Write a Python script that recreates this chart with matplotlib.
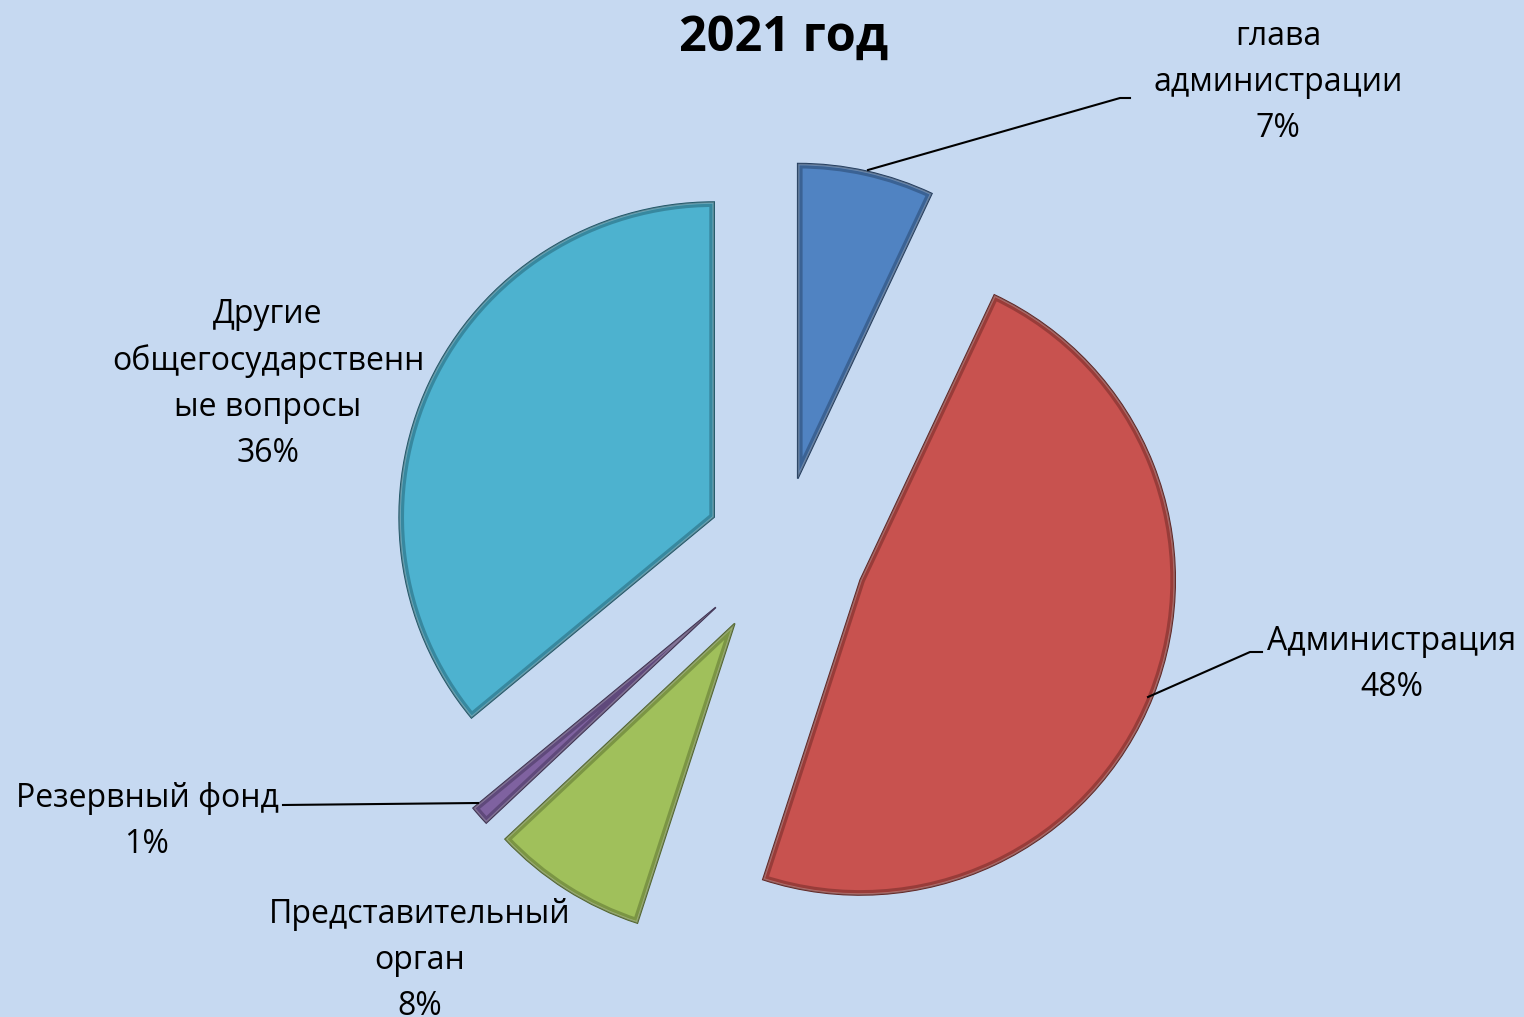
import matplotlib.pyplot as plt
import matplotlib.patches as mpatches

# data
labels = ["глава\nадминистрации", "Администрация", "Представительный\nорган",
          "Резервный фонд", "Другие\nобщегосударственн\nые вопросы"]
shares = [7, 48, 8, 1, 36]
colors = ["#5083C2", "#C8524F", "#A0C05B", "#7F62A0", "#4DB2CF"]
edges = ["#203A5C", "#5E2220", "#4E6228", "#3A2C4E", "#1E5566"]
explode = [0.229, 0.267, 0.28, 0.28, 0.238]

W, H = 1524, 1017
R = 315
plt.rcParams['font.family'] = ['Open Sans', 'DejaVu Sans']

fig = plt.figure(figsize=(W / 100, H / 100), dpi=100)
fig.patch.set_facecolor("#C6D9F1")
ax = fig.add_axes([0, 0, 1, 1])
ax.set_facecolor("#C6D9F1")


def P(x, y):
    # pixel position (y down) -> data coords
    return x, H - y


wedges, _ = ax.pie(shares, colors=colors, explode=[e * R for e in explode],
                   startangle=90, counterclock=False, center=P(782, 549),
                   radius=R)
for w, ec in zip(wedges, edges):
    w.set_edgecolor(ec)
    w.set_linewidth(1.2)
    # inner shading band, clipped to the wedge -> bevel-ish look
    band = mpatches.Wedge(w.center, w.r, w.theta1, w.theta2, fill=False,
                          edgecolor=ec, lw=7, alpha=0.45)
    ax.add_patch(band)
    band.set_clip_path(w)
    hl = mpatches.Wedge(w.center, w.r, w.theta1, w.theta2, fill=False,
                        edgecolor="white", lw=2.5, alpha=0.25)
    ax.add_patch(hl)
    hl.set_clip_path(w)

ax.set_xlim(0, W)
ax.set_ylim(0, H)
ax.set_aspect("equal")
ax.axis("off")

fs = 23
# label text: (center x, top y) in pixels
pct = [f"{v}%" for v in shares]
pos = [(1278, 20), (1392, 625), (420, 898), (147, 782), (268, 298)]
for lab, p, (x, y) in zip(labels, pct, pos):
    ax.text(*P(x, y), lab + "\n" + p, ha="center", va="top", fontsize=fs,
            linespacing=1.52)

# leader lines
leaders = [
    [(868, 170), (1120, 98), (1130, 98)],
    [(1148, 697), (1250, 652), (1262, 652)],
    [(478, 803), (283, 805)],
]
for pts in leaders:
    xs = [P(*q)[0] for q in pts]
    ys = [P(*q)[1] for q in pts]
    ax.plot(xs, ys, color="black", lw=1.5)

ax.text(*P(784, 38), "2021 год", ha="center", va="center", fontsize=35,
        fontweight="bold")

fig.savefig("out.png", dpi=100, facecolor=fig.get_facecolor())
